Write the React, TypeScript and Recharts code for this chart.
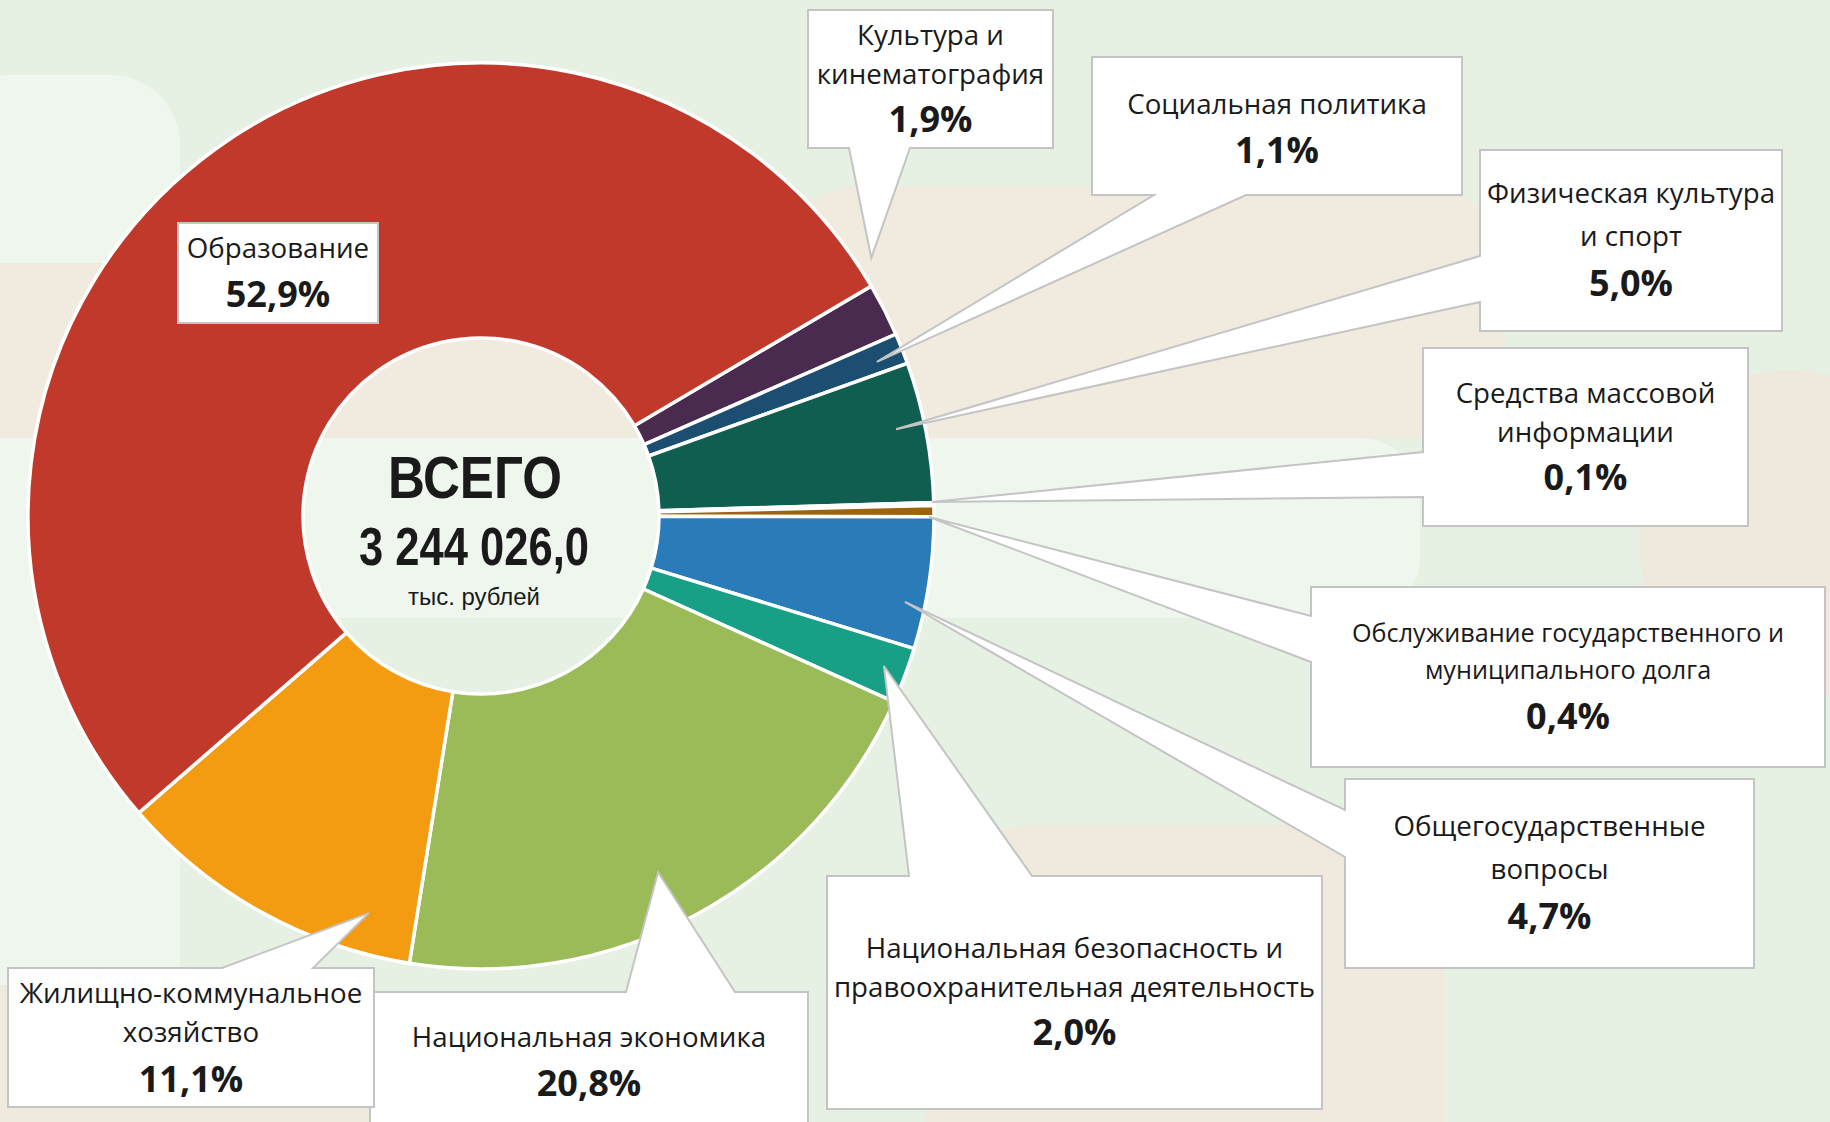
import { PieChart, Pie, Cell, Label } from "recharts";

// budget expenditure structure, % of total
const categories = [
  "Культура и кинематография",
  "Социальная политика",
  "Физическая культура и спорт",
  "Средства массовой информации",
  "Обслуживание государственного и муниципального долга",
  "Общегосударственные вопросы",
  "Национальная безопасность и правоохранительная деятельность",
  "Национальная экономика",
  "Жилищно-коммунальное хозяйство",
  "Образование",
];
const shares = [1.9, 1.1, 5.0, 0.1, 0.4, 4.7, 2.0, 20.8, 11.1, 52.9];
const sliceColors = [
  "#4b2a50",
  "#1b4e70",
  "#0f5e4f",
  "#ffffff",
  "#9e640d",
  "#2a7cb8",
  "#17a086",
  "#9bbb59",
  "#f39c12",
  "#c0392b",
];
// how each category name is wrapped inside its callout
const labelLines = [
  ["Культура и", "кинематография"],
  ["Социальная политика"],
  ["Физическая культура", "и спорт"],
  ["Средства массовой", "информации"],
  ["Обслуживание государственного и", "муниципального долга"],
  ["Общегосударственные", "вопросы"],
  ["Национальная безопасность и", "правоохранительная деятельность"],
  ["Национальная экономика"],
  ["Жилищно-коммунальное", "хозяйство"],
  ["Образование"],
];
const totalTitle = "ВСЕГО";
const totalValue = "3 244 026,0";
const totalUnit = "тыс. рублей";

const data = categories.map((name, i) => ({ name, value: shares[i] }));

const CX = 481;
const CY = 516;
const RAD = Math.PI / 180;
const FONT = "'Open Sans', 'Noto Sans', sans-serif";
const NARROW = "'Liberation Sans Narrow', 'Liberation Sans', Arial, sans-serif";

// callout boxes: [left, top, right, bottom], the edge the pointer leaves from,
// pointer base along that edge, and where the tip sits relative to the slice
const callouts: any[] = [
  { box: [808, 10, 1053, 148], edge: "bottom", base: [849, 910], tipShift: 6.4, tipR: 1.033, lines: [45, 84], pct: 132 },
  { box: [1092, 57, 1462, 195], edge: "bottom", base: [1154, 1246], tipShift: -0.4, tipR: 0.938, lines: [114], pct: 163 },
  { box: [1480, 150, 1782, 331], edge: "left", base: [256, 302], tipShift: 1.1, tipR: 0.936, lines: [203, 246], pct: 296 },
  { box: [1423, 348, 1748, 526], edge: "left", base: [452, 497], tipShift: 0.26, tipR: 0.996, lines: [403, 442], pct: 490 },
  { box: [1311, 587, 1825, 767], edge: "left", base: [616, 662], tipShift: -0.75, tipR: 0.989, lines: [642, 679], pct: 729, size: 25.2 },
  { box: [1345, 779, 1754, 968], edge: "left", base: [810, 857], tipShift: -2.9, tipR: 0.955, lines: [836, 879], pct: 929 },
  { box: [827, 876, 1322, 1109], edge: "top", base: [909, 1032], tipShift: 0.2, tipR: 0.949, lines: [958, 997], pct: 1045 },
  { box: [370, 992, 808, 1140], edge: "top", base: [626, 735], tipShift: -1.9, tipR: 0.878, lines: [1047], pct: 1096 },
  { box: [8, 968, 374, 1107], edge: "top", base: [222, 313], tipShift: 13.3, tipR: 0.911, lines: [1003, 1042], pct: 1092 },
  { box: [178, 223, 378, 323], edge: null, lines: [258], pct: 307 },
];

// soft background shapes
const decor = [
  { x: -60, y: 75, w: 240, h: 1200, r: 70, c: "#eef6ee" },
  { x: 780, y: 186, w: 725, h: 252, r: 80, c: "#f0eadf" },
  { x: -60, y: 263, w: 1000, h: 175, r: 60, c: "#f0eadf" },
  { x: -60, y: 438, w: 1480, h: 180, r: 60, c: "#eef6ee" },
  { x: 1640, y: 370, w: 300, h: 330, r: 150, c: "#efe8dc" },
  { x: 925, y: 825, w: 520, h: 400, r: 110, c: "#efe9de" },
  { x: -60, y: 985, w: 430, h: 200, r: 60, c: "#efe9de" },
];

const pctText = (v: number) => v.toFixed(1).replace(".", ",") + "%";

const polar = (cx: number, cy: number, r: number, deg: number) => [
  cx + r * Math.cos(-deg * RAD),
  cy + r * Math.sin(-deg * RAD),
];

function calloutPath(box: number[], edge: string | null, base: number[], tip: number[] | null) {
  const [L, T, R, B] = box;
  const pts: number[][] = [[L, T]];
  if (edge === "top" && tip) pts.push([base[0], T], tip, [base[1], T]);
  pts.push([R, T], [R, B]);
  if (edge === "bottom" && tip) pts.push([base[1], B], tip, [base[0], B]);
  pts.push([L, B]);
  if (edge === "left" && tip) pts.push([L, base[1]], tip, [L, base[0]]);
  return "M" + pts.map((p) => p[0].toFixed(1) + "," + p[1].toFixed(1)).join("L") + "Z";
}

const renderCallout = (props: any) => {
  const { cx, cy, midAngle, outerRadius, index } = props;
  const c = callouts[index];
  if (!c) return null;
  const [L, , R] = c.box;
  const tip = c.edge ? polar(cx, cy, outerRadius * c.tipR, midAngle + c.tipShift) : null;
  const mid = (L + R) / 2;
  const size = c.size ?? 27.7;
  return (
    <g key={`callout-${index}`}>
      <path d={calloutPath(c.box, c.edge, c.base, tip)} fill="#ffffff" stroke="#c4c4c4" strokeWidth={2} />
      {labelLines[index].map((t, k) => (
        <text key={k} x={mid} y={c.lines[k]} textAnchor="middle" fontFamily={FONT} fontSize={size} fill="#1a1a1a">
          {t}
        </text>
      ))}
      <text x={mid} y={c.pct} textAnchor="middle" fontFamily={FONT} fontSize={36} fontWeight={700} fill="#1a1a1a">
        {pctText(shares[index])}
      </text>
    </g>
  );
};

const renderCenter = (props: any) => {
  const vb = props.viewBox || {};
  const cx = vb.cx ?? CX;
  const cy = vb.cy ?? CY;
  return (
    <g>
      <text x={cx - 6} y={cy - 18} textAnchor="middle" fontFamily={NARROW} fontWeight={700} fontSize={60}
        textLength={174} lengthAdjust="spacingAndGlyphs" fill="#1a1a1a">
        {totalTitle}
      </text>
      <text x={cx - 7} y={cy + 49} textAnchor="middle" fontFamily={NARROW} fontWeight={700} fontSize={53}
        textLength={230} lengthAdjust="spacingAndGlyphs" fill="#1a1a1a">
        {totalValue}
      </text>
      <text x={cx - 7} y={cy + 89} textAnchor="middle" fontFamily={NARROW} fontSize={23}
        textLength={132} lengthAdjust="spacingAndGlyphs" fill="#1a1a1a">
        {totalUnit}
      </text>
    </g>
  );
};

const BudgetStructureChart = () => {
  return (
    <div style={{ position: "absolute", left: 0, top: 0, width: 1830, height: 1122, overflow: "hidden", background: "#e6f1e3" }}>
      {decor.map((d, i) => (
        <div
          key={i}
          style={{ position: "absolute", left: d.x, top: d.y, width: d.w, height: d.h, borderRadius: d.r, background: d.c }}
        />
      ))}
      <div style={{ position: "absolute", left: 0, top: 0 }}>
        <PieChart width={1830} height={1122} margin={{ top: 0, right: 0, left: 0, bottom: 0 }}>
          <Pie
            data={data}
            dataKey="value"
            nameKey="name"
            cx={CX}
            cy={CY}
            innerRadius={178}
            outerRadius={453}
            startAngle={30.5}
            endAngle={-329.5}
            stroke="#ffffff"
            strokeWidth={3.5}
            label={renderCallout}
            labelLine={false}
            isAnimationActive={false}
          >
            {data.map((d, i) => (
              <Cell key={d.name} fill={sliceColors[i]} />
            ))}
            <Label position="center" content={renderCenter} />
          </Pie>
        </PieChart>
      </div>
    </div>
  );
};

export default BudgetStructureChart;
